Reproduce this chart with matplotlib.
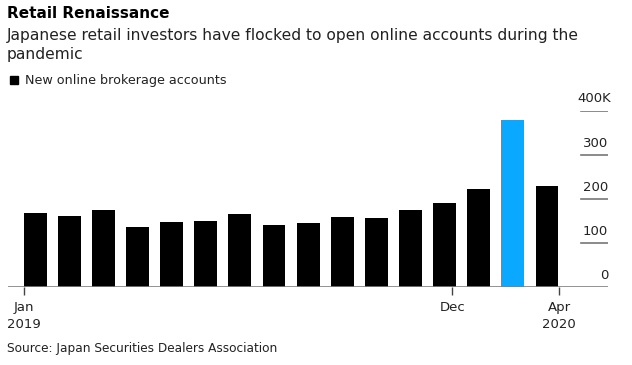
import matplotlib
matplotlib.use("Agg")
import matplotlib.pyplot as plt
import matplotlib.transforms as mtransforms
from matplotlib.patches import Rectangle

# monthly new online brokerage accounts, Jan 2019 - Apr 2020 (thousands)
months = ["Jan 2019", "Feb 2019", "Mar 2019", "Apr 2019", "May 2019", "Jun 2019",
          "Jul 2019", "Aug 2019", "Sep 2019", "Oct 2019", "Nov 2019", "Dec 2019",
          "Jan 2020", "Feb 2020", "Mar 2020", "Apr 2020"]
accounts = [167, 161, 173, 135, 146, 150, 164, 139, 144, 158, 155, 173,
            191, 221, 378, 228]
highlight = "Mar 2020"

y_ticks = [0, 100, 200, 300, 400]
y_labels = ["0", "100", "200", "300", "400K"]
x_tick_pos = [-0.33, 12.23, 15.36]
x_tick_labels = ["Jan\n2019", "Dec", "Apr\n2020"]

plt.rcParams["font.family"] = ["DejaVu Sans"]

W, H = 632, 365
fig = plt.figure(figsize=(W / 100, H / 100), dpi=100)

# axes placed in pixel units
left, right, bottom, top = 8.3, 608, 286.7, 110.5
ax = fig.add_axes([left / W, 1 - bottom / H, (right - left) / W, (bottom - top) / H])

colors = ["#0AA8FF" if m == highlight else "black" for m in months]
ax.bar(range(len(months)), accounts, width=0.67, color=colors, zorder=2)

ax.set_xlim(-0.79, 16.79)
ax.set_ylim(0, 400)

for s in ax.spines.values():
    s.set_visible(False)
ax.axhline(0, color="#808080", lw=1.2, zorder=3)

# short gridlines on the right with labels above
gx0 = (580.7 - left) / (right - left)
label_tf = mtransforms.offset_copy(ax.transData, fig=fig, x=0, y=8, units="dots")
for v, lab in zip(y_ticks, y_labels):
    if v > 0:
        ax.axhline(v, xmin=gx0, xmax=1, color="#777777", lw=1.2, zorder=1)
    xr = 16.79 if lab != "400K" else 16.87
    ax.text(xr, v, lab, transform=label_tf, ha="right", va="baseline",
            fontsize=9.5, color="#222222")
ax.set_yticks([])

ax.set_xticks(x_tick_pos)
ax.set_xticklabels(x_tick_labels, fontsize=9.5, color="#222222", linespacing=1.35)
ax.tick_params(axis="x", length=6, width=1, color="#444444", pad=4.5)

# header
fig.text(7 / W, 1 - 18 / H, "Retail Renaissance", fontsize=11, fontweight="bold",
         va="baseline", ha="left")
fig.text(7 / W, 1 - 40 / H, "Japanese retail investors have flocked to open online accounts during the",
         fontsize=11.2, va="baseline", ha="left", color="#222222")
fig.text(7 / W, 1 - 59 / H, "pandemic", fontsize=11.2, va="baseline", ha="left", color="#222222")

# legend
fig.add_artist(Rectangle((10 / W, 1 - 84 / H), 8 / W, 8 / H, transform=fig.transFigure,
                         color="black"))
fig.text(25 / W, 1 - 84 / H, "New online brokerage accounts", fontsize=9.2,
         va="baseline", ha="left", color="#222222")

fig.text(7 / W, 1 - 352 / H, "Source: Japan Securities Dealers Association", fontsize=8.7,
         va="baseline", ha="left", color="#222222")

fig.savefig("out.png", dpi=100)
